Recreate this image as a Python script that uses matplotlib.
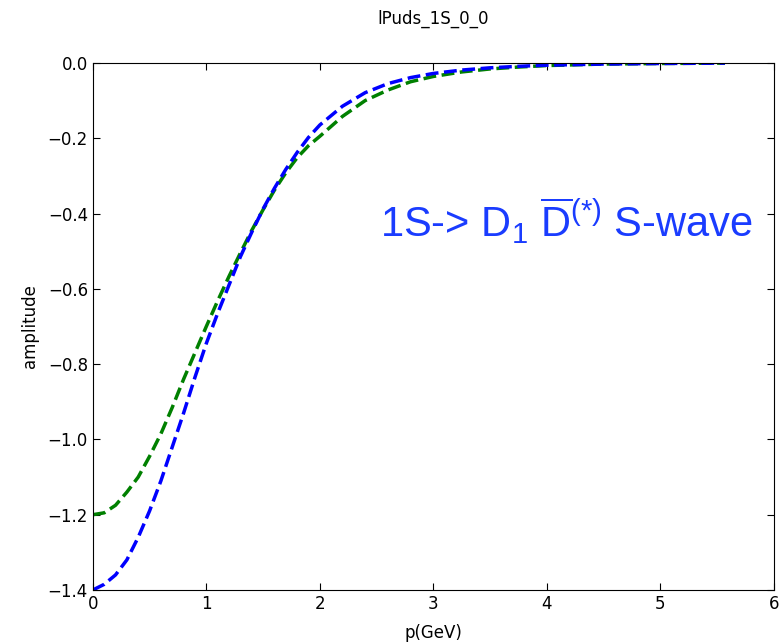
import numpy as np
import matplotlib
matplotlib.use("Agg")
import matplotlib.pyplot as plt

# momentum grid (GeV)
p = [0.0, 0.1, 0.2, 0.3, 0.4, 0.5, 0.6, 0.7, 0.8, 0.9,
     1.0, 1.1, 1.2, 1.3, 1.4, 1.5, 1.6, 1.7, 1.8, 1.9,
     2.0, 2.2, 2.4, 2.6, 2.8, 3.0, 3.25, 3.5, 3.75, 4.0,
     4.5, 5.0, 5.57]

amp_blue = [-1.40, -1.385, -1.36, -1.32, -1.26, -1.19, -1.11, -1.02, -0.93, -0.835,
            -0.745, -0.665, -0.59, -0.515, -0.45, -0.388, -0.333, -0.283, -0.238, -0.198,
            -0.165, -0.115, -0.079, -0.055, -0.039, -0.028, -0.019, -0.013, -0.009, -0.006,
            -0.003, -0.0015, -0.0005]

amp_green = [-1.20, -1.195, -1.175, -1.14, -1.10, -1.045, -0.985, -0.915, -0.84, -0.77,
             -0.70, -0.632, -0.567, -0.505, -0.445, -0.39, -0.338, -0.292, -0.252, -0.22,
             -0.195, -0.142, -0.10, -0.072, -0.05, -0.036, -0.024, -0.016, -0.011, -0.007,
             -0.003, -0.0015, -0.0005]

title = "lPuds_1S_0_0"
label_text = r"1S-> D$_1$ $\overline{\mathrm{D}}^{(*)}$ S-wave"

plt.rcParams["mathtext.fontset"] = "custom"
plt.rcParams["mathtext.rm"] = "Liberation Sans"
plt.rcParams["mathtext.it"] = "Liberation Sans:italic"


def fmt_y(v, pos):
    s = "%.1f" % v
    if s == "-0.0":
        s = "0.0"
    return s.replace("-", "\u2212")


def fmt_x(v, pos):
    return "%d" % round(v)


fig = plt.figure(figsize=(7.8, 6.42), dpi=100)
ax = fig.add_axes([0.119, 0.081, 0.873, 0.821])

ax.plot(p, amp_green, "--", color="#008000", lw=2.5)
ax.plot(p, amp_blue, "--", color="#0000ff", lw=2.5)

ax.set_xlim(0, 6)
ax.set_ylim(-1.4, 0.0)
ax.set_xticks(np.arange(0, 7, 1))
ax.set_yticks(np.arange(-1.4, 0.01, 0.2))
ax.tick_params(direction="in", top=True, right=True, labelsize=12, length=5)
ax.yaxis.set_major_formatter(matplotlib.ticker.FuncFormatter(fmt_y))
ax.xaxis.set_major_formatter(matplotlib.ticker.FuncFormatter(fmt_x))

ax.set_xlabel("p(GeV)", fontsize=12, labelpad=8)
ax.set_ylabel("amplitude", fontsize=12, labelpad=6)
ax.set_title(title, fontsize=12, pad=28)

ax.text(2.53, -0.42, label_text, color="#1a3cff", fontsize=30,
        family="Liberation Sans", va="center", ha="left")

fig.savefig("out.png", dpi=100)
